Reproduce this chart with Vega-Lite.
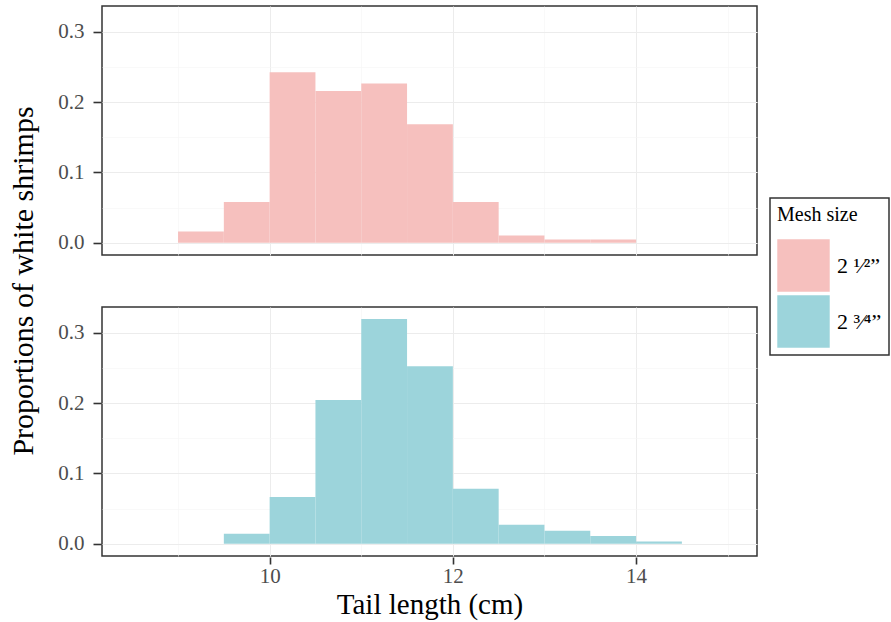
{
  "$schema": "https://vega.github.io/schema/vega-lite/v6.json",
  "padding": {"left": 8, "top": 5, "right": 2, "bottom": 2},
  "background": "white",
  "data": {"values": [
    {"mesh": "2 ¹⁄²”", "start": 9.0, "end": 9.5, "prop": 0.016},
    {"mesh": "2 ¹⁄²”", "start": 9.5, "end": 10.0, "prop": 0.058},
    {"mesh": "2 ¹⁄²”", "start": 10.0, "end": 10.5, "prop": 0.2426},
    {"mesh": "2 ¹⁄²”", "start": 10.5, "end": 11.0, "prop": 0.216},
    {"mesh": "2 ¹⁄²”", "start": 11.0, "end": 11.5, "prop": 0.2265},
    {"mesh": "2 ¹⁄²”", "start": 11.5, "end": 12.0, "prop": 0.1686},
    {"mesh": "2 ¹⁄²”", "start": 12.0, "end": 12.5, "prop": 0.058},
    {"mesh": "2 ¹⁄²”", "start": 12.5, "end": 13.0, "prop": 0.0104},
    {"mesh": "2 ¹⁄²”", "start": 13.0, "end": 13.5, "prop": 0.0047},
    {"mesh": "2 ¹⁄²”", "start": 13.5, "end": 14.0, "prop": 0.0047},
    {"mesh": "2 ³⁄⁴”", "start": 9.5, "end": 10.0, "prop": 0.0142},
    {"mesh": "2 ³⁄⁴”", "start": 10.0, "end": 10.5, "prop": 0.0665},
    {"mesh": "2 ³⁄⁴”", "start": 10.5, "end": 11.0, "prop": 0.2047},
    {"mesh": "2 ³⁄⁴”", "start": 11.0, "end": 11.5, "prop": 0.32},
    {"mesh": "2 ³⁄⁴”", "start": 11.5, "end": 12.0, "prop": 0.2526},
    {"mesh": "2 ³⁄⁴”", "start": 12.0, "end": 12.5, "prop": 0.0783},
    {"mesh": "2 ³⁄⁴”", "start": 12.5, "end": 13.0, "prop": 0.027},
    {"mesh": "2 ³⁄⁴”", "start": 13.0, "end": 13.5, "prop": 0.0185},
    {"mesh": "2 ³⁄⁴”", "start": 13.5, "end": 14.0, "prop": 0.011},
    {"mesh": "2 ³⁄⁴”", "start": 14.0, "end": 14.5, "prop": 0.003}
  ]},
  "facet": {
    "row": {
      "field": "mesh",
      "type": "nominal",
      "title": "Proportions of white shrimps",
      "sort": ["2 ¹⁄²”", "2 ³⁄⁴”"],
      "header": {
        "labels": false,
        "labelPadding": 0,
        "titleOrient": "left",
        "titleFont": "Liberation Serif",
        "titleFontSize": 30,
        "titleFontWeight": "normal",
        "titleColor": "#000000",
        "titlePadding": 8
      }
    }
  },
  "spacing": {"row": 50},
  "spec": {
    "width": 655,
    "height": 249,
    "mark": {"type": "bar", "opacity": 1, "strokeWidth": 0},
    "encoding": {
      "x": {
        "field": "start",
        "type": "quantitative",
        "scale": {"domain": [8.17, 15.32], "nice": false, "zero": false},
        "axis": {
          "title": "Tail length (cm)",
          "values": [9, 10, 11, 12, 13, 14, 15],
          "labelExpr": "datum.value % 2 == 0 ? datum.label : ''",
          "tickOpacity": {"condition": {"test": "datum.value % 2 == 0", "value": 1}, "value": 0},
          "gridColor": {"condition": {"test": "datum.value % 2 == 0", "value": "#ececec"}, "value": "#f5f5f5"},
          "gridWidth": {"condition": {"test": "datum.value % 2 == 0", "value": 1}, "value": 0.6},
          "labelFont": "Liberation Serif",
          "titleFont": "Liberation Serif",
          "titleFontSize": 29,
          "labelPadding": 1,
          "tickSize": 7,
          "titlePadding": 4
        }
      },
      "x2": {"field": "end"},
      "y": {
        "field": "prop",
        "type": "quantitative",
        "scale": {"domain": [-0.0175, 0.337], "nice": false, "zero": false},
        "axis": {
          "title": null,
          "values": [0, 0.05, 0.1, 0.15, 0.2, 0.25, 0.3],
          "labelExpr": "abs(datum.value*10 - round(datum.value*10)) < 0.001 ? format(datum.value, '.1f') : ''",
          "tickOpacity": {"condition": {"test": "abs(datum.value*10 - round(datum.value*10)) < 0.001", "value": 1}, "value": 0},
          "gridColor": {"condition": {"test": "abs(datum.value*10 - round(datum.value*10)) < 0.001", "value": "#ececec"}, "value": "#f5f5f5"},
          "gridWidth": {"condition": {"test": "abs(datum.value*10 - round(datum.value*10)) < 0.001", "value": 1}, "value": 0.6},
          "labelFont": "Liberation Serif",
          "labelPadding": 9
        }
      },
      "y2": {"datum": 0},
      "color": {
        "field": "mesh",
        "type": "nominal",
        "title": "Mesh size",
        "scale": {"domain": ["2 ¹⁄²”", "2 ³⁄⁴”"], "range": ["#F6C0BE", "#9CD4DB"]},
        "legend": {
          "orient": "none",
          "legendX": 668,
          "legendY": 192
        }
      }
    }
  },
  "config": {
    "font": "Liberation Serif",
    "view": {"stroke": "#333333", "strokeWidth": 1.5},
    "axis": {
      "domain": false,
      "grid": true,
      "labelFont": "Liberation Serif",
      "labelFontSize": 21,
      "labelColor": "#4d4d4d",
      "labelPadding": 3,
      "tickColor": "#333333",
      "tickWidth": 1.6,
      "tickSize": 8,
      "titleFont": "Liberation Serif",
      "titleFontSize": 30,
      "titleFontWeight": "normal",
      "titleColor": "#000000"
    },
    "legend": {
      "titleFont": "Liberation Serif",
      "titleFontSize": 20,
      "titleFontWeight": "normal",
      "titleColor": "#000000",
      "labelFont": "Liberation Serif",
      "labelFontSize": 22,
      "labelColor": "#000000",
      "symbolType": "square",
      "symbolSize": 2750,
      "symbolStrokeWidth": 0,
      "symbolOpacity": 1,
      "rowPadding": 3,
      "labelOffset": 7,
      "padding": 7,
      "strokeColor": "#333333",
      "strokeWidth": 1.5,
      "titlePadding": 14
    }
  }
}
